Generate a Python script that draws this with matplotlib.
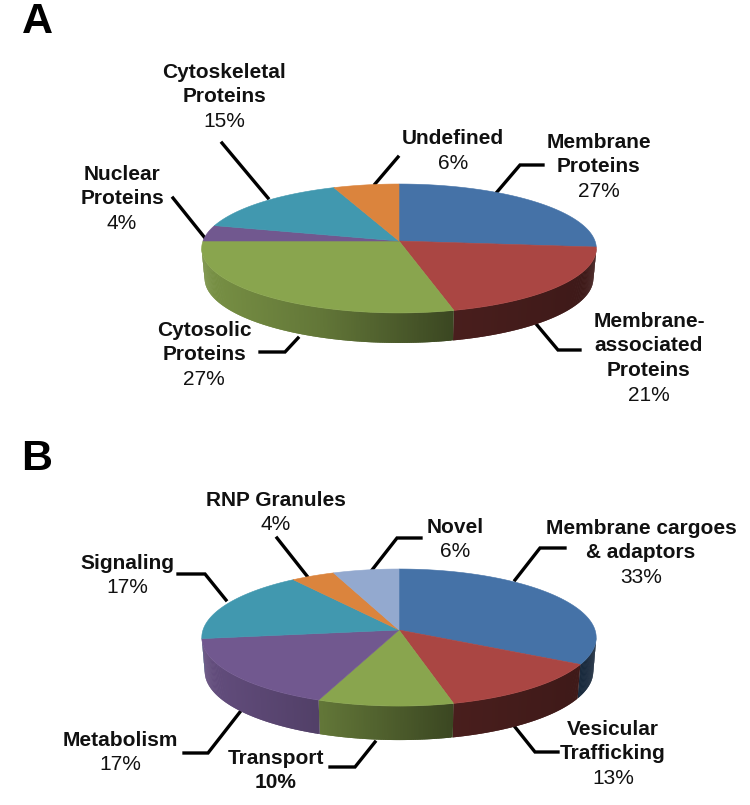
import numpy as np
import matplotlib
matplotlib.use("Agg")
import matplotlib.pyplot as plt
from matplotlib.colors import to_rgb

plt.rcParams['font.family'] = ['Liberation Sans', 'DejaVu Sans']

# Panel A: shares as measured off the slices, labels as printed
A_CATEGORIES = ["Membrane\nProteins", "Membrane-\nassociated\nProteins",
                "Cytosolic\nProteins", "Nuclear\nProteins",
                "Cytoskeletal\nProteins", "Undefined"]
A_SHARES = [26.5, 19.5, 29, 4, 15, 6]
A_PERCENTS = ["27%", "21%", "27%", "4%", "15%", "6%"]

# Panel B
B_CATEGORIES = ["Membrane cargoes\n& adaptors", "Vesicular\nTrafficking",
                "Transport", "Metabolism", "Signaling",
                "RNP Granules", "Novel"]
B_SHARES = [33, 13, 10, 17, 17, 4, 6]
B_PERCENTS = ["33%", "13%", "10%", "17%", "17%", "4%", "6%"]

SLICE_COLORS = ["#4572A7", "#AA4643", "#89A54E", "#71588F",
                "#4198AF", "#DB843D", "#93A9CF"]

# pie geometry in pixels: centre x, centre y, x scale, y scale, tilt, wall
A_PIE = (399, 241, 196, 63.6, 0.116, 30)
B_PIE = (399, 630, 196, 67.7, 0.110, 34)
RIM_SHRINK = 0.985

# label centres in pixels, same order as the categories
A_LABEL_POS = [(599, 142), (649, 321), (204, 330), (122, 174), (224, 72), (453, 139)]
B_LABEL_POS = [(641, 528), (613, 729), (276, 758), (120, 740), (127, 563), (276, 500), (455, 527)]
LINE_STEP = 24.7

A_LEADERS = [[(497, 192), (520, 165), (543, 165)],
             [(537, 325), (558, 350), (580, 350)],
             [(298, 338), (285, 352), (260, 352)],
             [(173, 198), (205, 238)],
             [(222, 143), (268, 198)],
             [(375, 184), (398, 157)]]
B_LEADERS = [[(515, 580), (540, 548), (565, 548)],
             [(515, 727), (535, 752), (558, 752)],
             [(330, 767), (355, 767), (375, 742)],
             [(184, 753), (208, 753), (240, 712)],
             [(178, 574), (205, 574), (226, 600)],
             [(277, 538), (307, 576)],
             [(372, 570), (397, 538), (421, 538)]]


def project(theta, radius, pie):
    ''' Function: project
        Parameters: angles (radians, clockwise from 12 o'clock), radius, pie tuple
        Returns: x and y pixel arrays
        Does: Puts points of the flat pie through a simple perspective
    '''
    cx, cy, sx, sy, k, wall = pie
    x = radius * np.sin(theta)
    y = radius * np.cos(theta)
    return cx + sx * x / (1 + k * y), cy - sy * y / (1 + k * y)


def wall_shade(x, pie):
    ''' Function: wall_shade
        Parameters: x in pixels, pie tuple
        Returns: brightness factor of the side wall at that x
    '''
    rel = (x - pie[0]) / pie[2]
    return np.interp(rel, [-1, -0.4, 0.28, 1], [0.88, 0.72, 0.43, 0.36])


def draw_pie(ax, shares, pie):
    ''' Function: draw_pie
        Parameters: axes, list of shares (percent), pie tuple
        Returns: Nothing
        Does: Draws the side wall in thin strips, then the top face
    '''
    edges = np.cumsum([0] + list(shares)) / np.sum(shares) * 2 * np.pi
    wall = pie[5]
    cx = pie[0]

    for i in range(len(shares)):
        rgb = np.array(to_rgb(SLICE_COLORS[i]))
        start = max(edges[i], np.radians(96))
        stop = min(edges[i + 1], np.radians(264))
        if stop > start:
            steps = np.linspace(start, stop, int((stop - start) * 120) + 3)
            for j in range(len(steps) - 1):
                # each strip runs on over the next one so no seams show
                x, y = project(steps[j:j + 3], 1, pie)
                col = np.clip(rgb * wall_shade(x[0], pie), 0, 1)
                low_x = cx + (x - cx) * RIM_SHRINK
                ax.fill(np.r_[x, low_x[::-1]], np.r_[y, (y + wall)[::-1]],
                        color=col, lw=0, zorder=3)

    for i in range(len(shares)):
        theta = np.linspace(edges[i], edges[i + 1], 120)
        x, y = project(theta, 1, pie)
        ax.fill(np.r_[cx, x], np.r_[pie[1], y], color=SLICE_COLORS[i], lw=0.4, zorder=4)


def draw_labels(ax, categories, percents, positions, leaders, bold_percent=()):
    ''' Function: draw_labels
        Parameters: axes, names, percent strings, label centres, leader lines,
                    percent strings' indexes that are bold
        Returns: Nothing
    '''
    for i in range(len(categories)):
        x, y = positions[i]
        lines = categories[i].split("\n")
        for j in range(len(lines)):
            ax.text(x, y + j * LINE_STEP, lines[j], ha="center", va="center",
                    fontsize=15, fontweight="bold", color="#111111", zorder=6)
        weight = "bold" if i in bold_percent else "normal"
        ax.text(x, y + len(lines) * LINE_STEP, percents[i], ha="center", va="center",
                fontsize=15, fontweight=weight, color="#111111", zorder=6)
        px = [p[0] for p in leaders[i]]
        py = [p[1] for p in leaders[i]]
        ax.plot(px, py, color="black", lw=2.4, solid_joinstyle="miter", zorder=2)


def main():
    fig = plt.figure(figsize=(7.5, 8.05), dpi=100)
    ax = fig.add_axes([0, 0, 1, 1])
    ax.set_xlim(0, 750)
    ax.set_ylim(805, 0)
    ax.axis("off")

    draw_pie(ax, A_SHARES, A_PIE)
    draw_pie(ax, B_SHARES, B_PIE)
    draw_labels(ax, A_CATEGORIES, A_PERCENTS, A_LABEL_POS, A_LEADERS)
    draw_labels(ax, B_CATEGORIES, B_PERCENTS, B_LABEL_POS, B_LEADERS, bold_percent=(2,))

    ax.text(37, 22, "A", ha="center", va="center", fontsize=31, fontweight="bold")
    ax.text(37, 459, "B", ha="center", va="center", fontsize=31, fontweight="bold")

    fig.savefig("out.png", dpi=100)


main()
